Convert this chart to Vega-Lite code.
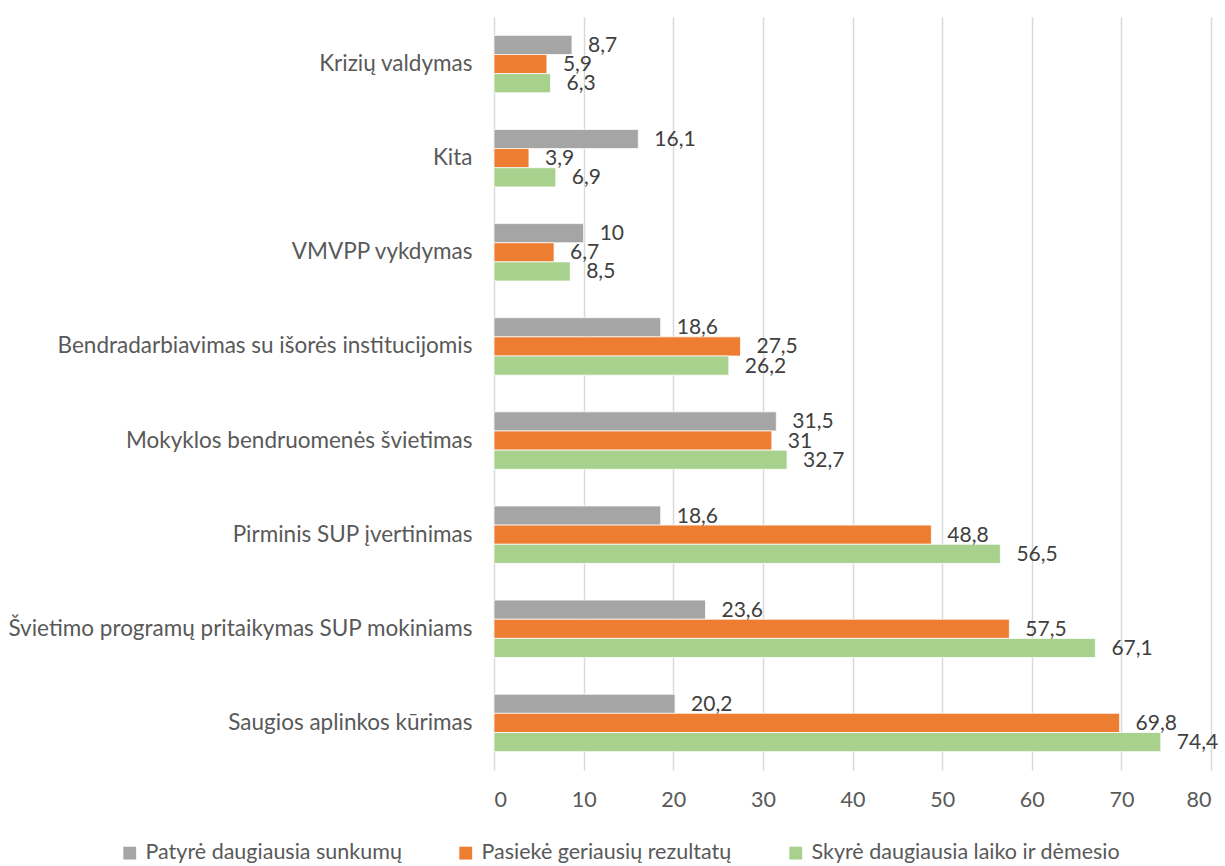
{
  "$schema": "https://vega.github.io/schema/vega-lite/v6.json",
  "width": 717,
  "height": 753,
  "autosize": {"type": "none"},
  "padding": {"left": 494, "top": 17, "right": 14, "bottom": 96},
  "background": "white",
  "config": {
    "font": "Lato",
    "view": {"stroke": null},
    "axis": {"labelFont": "Lato", "labelColor": "#595959"},
    "legend": {"labelFont": "Lato", "labelColor": "#595959"}
  },
  "data": {
    "values": [
      {"cat": "Krizių valdymas", "series": "Patyrė daugiausia sunkumų", "value": 8.7, "label": "8,7"},
      {"cat": "Krizių valdymas", "series": "Pasiekė geriausių rezultatų", "value": 5.9, "label": "5,9"},
      {"cat": "Krizių valdymas", "series": "Skyrė daugiausia laiko ir dėmesio", "value": 6.3, "label": "6,3"},
      {"cat": "Kita", "series": "Patyrė daugiausia sunkumų", "value": 16.1, "label": "16,1"},
      {"cat": "Kita", "series": "Pasiekė geriausių rezultatų", "value": 3.9, "label": "3,9"},
      {"cat": "Kita", "series": "Skyrė daugiausia laiko ir dėmesio", "value": 6.9, "label": "6,9"},
      {"cat": "VMVPP vykdymas", "series": "Patyrė daugiausia sunkumų", "value": 10, "label": "10"},
      {"cat": "VMVPP vykdymas", "series": "Pasiekė geriausių rezultatų", "value": 6.7, "label": "6,7"},
      {"cat": "VMVPP vykdymas", "series": "Skyrė daugiausia laiko ir dėmesio", "value": 8.5, "label": "8,5"},
      {"cat": "Bendradarbiavimas su išorės institucijomis", "series": "Patyrė daugiausia sunkumų", "value": 18.6, "label": "18,6"},
      {"cat": "Bendradarbiavimas su išorės institucijomis", "series": "Pasiekė geriausių rezultatų", "value": 27.5, "label": "27,5"},
      {"cat": "Bendradarbiavimas su išorės institucijomis", "series": "Skyrė daugiausia laiko ir dėmesio", "value": 26.2, "label": "26,2"},
      {"cat": "Mokyklos bendruomenės švietimas", "series": "Patyrė daugiausia sunkumų", "value": 31.5, "label": "31,5"},
      {"cat": "Mokyklos bendruomenės švietimas", "series": "Pasiekė geriausių rezultatų", "value": 31, "label": "31"},
      {"cat": "Mokyklos bendruomenės švietimas", "series": "Skyrė daugiausia laiko ir dėmesio", "value": 32.7, "label": "32,7"},
      {"cat": "Pirminis SUP įvertinimas", "series": "Patyrė daugiausia sunkumų", "value": 18.6, "label": "18,6"},
      {"cat": "Pirminis SUP įvertinimas", "series": "Pasiekė geriausių rezultatų", "value": 48.8, "label": "48,8"},
      {"cat": "Pirminis SUP įvertinimas", "series": "Skyrė daugiausia laiko ir dėmesio", "value": 56.5, "label": "56,5"},
      {"cat": "Švietimo programų pritaikymas SUP mokiniams", "series": "Patyrė daugiausia sunkumų", "value": 23.6, "label": "23,6"},
      {"cat": "Švietimo programų pritaikymas SUP mokiniams", "series": "Pasiekė geriausių rezultatų", "value": 57.5, "label": "57,5"},
      {"cat": "Švietimo programų pritaikymas SUP mokiniams", "series": "Skyrė daugiausia laiko ir dėmesio", "value": 67.1, "label": "67,1"},
      {"cat": "Saugios aplinkos kūrimas", "series": "Patyrė daugiausia sunkumų", "value": 20.2, "label": "20,2"},
      {"cat": "Saugios aplinkos kūrimas", "series": "Pasiekė geriausių rezultatų", "value": 69.8, "label": "69,8"},
      {"cat": "Saugios aplinkos kūrimas", "series": "Skyrė daugiausia laiko ir dėmesio", "value": 74.4, "label": "74,4"}
    ]
  },
  "encoding": {
    "y": {
      "field": "cat",
      "type": "nominal",
      "sort": null,
      "scale": {"paddingInner": 0.39, "paddingOuter": 0.195},
      "axis": {
        "title": null,
        "ticks": false,
        "domain": false,
        "labelFontSize": 22.5,
        "labelPadding": 22,
        "labelLimit": 600
      }
    },
    "yOffset": {
      "field": "series",
      "type": "nominal",
      "sort": ["Patyrė daugiausia sunkumų", "Pasiekė geriausių rezultatų", "Skyrė daugiausia laiko ir dėmesio"],
      "scale": {"paddingInner": 0, "paddingOuter": 0}
    },
    "x": {
      "field": "value",
      "type": "quantitative",
      "scale": {"domain": [0, 80], "nice": false},
      "axis": {
        "title": null,
        "values": [0, 10, 20, 30, 40, 50, 60, 70, 80],
        "grid": true,
        "gridColor": "#d9d9d9",
        "gridWidth": 1.5,
        "ticks": false,
        "domain": false,
        "labelFontSize": 21.5,
        "labelPadding": 19
      }
    }
  },
  "layer": [
    {
      "mark": {"type": "bar", "stroke": "white", "strokeWidth": 0.75},
      "encoding": {
        "color": {
          "field": "series",
          "type": "nominal",
          "sort": ["Patyrė daugiausia sunkumų", "Pasiekė geriausių rezultatų", "Skyrė daugiausia laiko ir dėmesio"],
          "scale": {
            "domain": ["Patyrė daugiausia sunkumų", "Pasiekė geriausių rezultatų", "Skyrė daugiausia laiko ir dėmesio"],
            "range": ["#A5A5A5", "#ED7D31", "#A9D18E"]
          },
          "legend": {
            "title": null,
            "orient": "none",
            "direction": "horizontal",
            "legendX": -375,
            "legendY": 825,
            "symbolType": "square",
            "symbolSize": 165,
            "symbolStrokeWidth": 0,
            "labelFontSize": 21.5,
            "labelOffset": 5,
            "columnPadding": 53,
            "labelLimit": 500
          }
        }
      }
    },
    {
      "mark": {"type": "text", "align": "left", "baseline": "middle", "dx": 16, "dy": 1, "fontSize": 21, "color": "#404040"},
      "encoding": {
        "text": {"field": "label", "type": "nominal"}
      }
    }
  ]
}
